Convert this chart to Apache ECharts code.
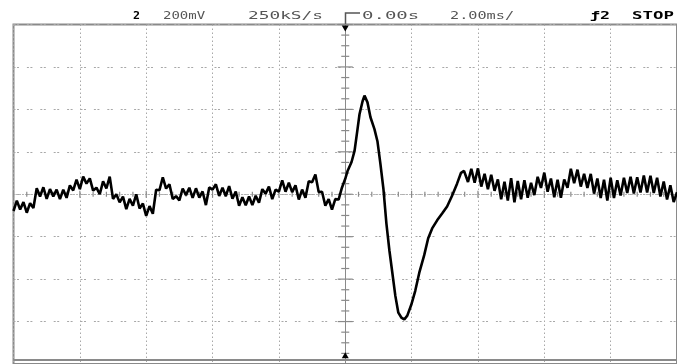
<!DOCTYPE html>
<html><head><meta charset="utf-8">
<script src="https://cdn.jsdelivr.net/npm/echarts@6/dist/echarts.min.js"></script>
<style>html,body{margin:0;padding:0;background:#fff}#c{width:677px;height:364px}</style>
</head><body><div id="c"></div>
<script>
// time in ms (2 ms/div), voltage in mV (200 mV/div)
const timeMs = [
-10.0,-9.9,-9.8,-9.7,-9.6,-9.5,-9.4,-9.3,-9.2,-9.1,
-9.0,-8.9,-8.8,-8.7,-8.6,-8.5,-8.4,-8.3,-8.2,-8.1,
-8.0,-7.9,-7.8,-7.7,-7.6,-7.5,-7.4,-7.3,-7.2,-7.1,
-7.0,-6.9,-6.8,-6.7,-6.6,-6.5,-6.4,-6.3,-6.2,-6.1,
-6.0,-5.9,-5.8,-5.7,-5.6,-5.5,-5.4,-5.3,-5.2,-5.1,
-5.0,-4.9,-4.8,-4.7,-4.6,-4.5,-4.4,-4.3,-4.2,-4.1,
-4.0,-3.9,-3.8,-3.7,-3.6,-3.5,-3.4,-3.3,-3.2,-3.1,
-3.0,-2.9,-2.8,-2.7,-2.6,-2.5,-2.4,-2.3,-2.2,-2.1,
-2.0,-1.9,-1.8,-1.7,-1.6,-1.5,-1.4,-1.3,-1.2,-1.1,
-1.0,-0.9,-0.8,-0.7,-0.6,-0.5,-0.4,-0.3,-0.2,-0.1,
0.0,
0.07,0.19,0.28,0.37,0.43,0.52,0.58,0.67,0.76,0.88,
0.97,1.06,1.15,1.24,1.33,1.42,1.51,1.60,1.69,1.78,
1.87,1.99,2.11,2.23,2.38,2.50,2.62,2.77,2.92,3.07,
3.22,3.37,3.49,3.58,
3.7,3.8,3.9,4.0,4.1,4.2,4.3,4.4,4.5,4.6,
4.7,4.8,4.9,5.0,5.1,5.2,5.3,5.4,5.5,5.6,
5.7,5.8,5.9,6.0,6.1,6.2,6.3,6.4,6.5,6.6,
6.7,6.8,6.9,7.0,7.1,7.2,7.3,7.4,7.5,7.6,
7.7,7.8,7.9,8.0,8.1,8.2,8.3,8.4,8.5,8.6,
8.7,8.8,8.9,9.0,9.1,9.2,9.3,9.4,9.5,9.6,
9.7,9.8,9.9,10.0
];
const voltageMv = [
-79,-30,-72,-37,-87,-42,-65,28,-11,33,
-22,24,-10,22,-23,21,-17,42,18,69,
24,83,50,75,17,31,0,61,27,83,
-22,0,-38,-11,-70,-22,-54,0,-67,-44,
-102,-56,-92,21,19,80,27,47,-22,-9,
-29,27,-4,31,-17,28,-16,13,-51,32,
22,47,-8,31,-9,38,-21,13,-54,-14,
-52,-11,-51,-7,-40,24,3,36,-23,22,
12,66,12,54,10,42,-25,22,-17,61,
57,93,10,12,-54,-23,-72,-23,-25,31,
73,
110,152,204,307,377,437,465,433,363,307,
250,143,26,-137,-264,-371,-479,-558,-581,-590,
-572,-521,-455,-371,-287,-207,-161,-123,-91,-58,
-7,50,101,110,
58,120,54,122,36,96,24,92,16,70,
-24,59,-30,76,-38,63,-24,66,-16,54,
-4,82,30,102,12,74,-14,68,-16,70,
30,120,52,116,36,96,30,96,3,74,
-18,68,-30,78,-18,66,-6,78,6,82,
3,80,8,88,8,87,6,78,-11,60,
-25,42,-37,10
];
// centre-axis graticule marks (1/4 div vertically, 1/5 div horizontally)
const yCenterTicksMv = [-800,-750,-700,-650,-600,-550,-500,-450,-400,-350,-300,-250,-200,-150,-100,-50,0,
  50,100,150,200,250,300,350,400,450,500,550,600,650,700,750,800];
const xCenterTicksMs = [-10,-9.6,-9.2,-8.8,-8.4,-8,-7.6,-7.2,-6.8,-6.4,-6,-5.6,-5.2,-4.8,-4.4,-4,-3.6,-3.2,-2.8,-2.4,
  -2,-1.6,-1.2,-0.8,-0.4,0,0.4,0.8,1.2,1.6,2,2.4,2.8,3.2,3.6,4,4.4,4.8,5.2,5.6,6,6.4,6.8,7.2,7.6,8,8.4,8.8,9.2,9.6,10];
const headerTexts = ['2','200mV','250kS/s','0.00s','2.00ms/','ƒ2','STOP'];
const timeRange = [-10, 10];
const voltRange = [-800, 800];
const screenBottomMv = -778;

const chart = echarts.init(document.getElementById('c'));
const gridCol = '#a8a8a8';
const axCol = '#8a8a8a';

const hdrPos = [[133,1.17,true],[163,1.4,false],[248,1.78,false],[362,1.9,false],[450,1.52,false],[590,1.66,true],[632,1.74,true]];
const graphics = headerTexts.map((t,i)=>({type:'text', x:hdrPos[i][0], y:16.5, scaleX:hdrPos[i][1],
  style:{text:t, fontFamily:'DejaVu Sans Mono', fontSize:10, fontWeight:hdrPos[i][2]?'bold':'normal',
  fill:hdrPos[i][2]?'#000':'#555', textAlign:'left', textVerticalAlign:'middle'}}));
graphics.push({type:'polyline', shape:{points:[[345.5,24],[345.5,13],[360,13]]}, style:{stroke:'#555', lineWidth:1.5, fill:null}});

function tickSeries(data, vertical){
  return {type:'custom', silent:true, clip:false, z:3, xAxisIndex:0, yAxisIndex:0,
    data:data,
    renderItem:function(params, api){
      const p = api.coord([api.value(0), api.value(1)]);
      let shape;
      if (vertical) {
        const major = Math.abs(api.value(1)) % 200 === 0;
        const h = major ? 7.5 : 4;
        shape = {x1:p[0]-h, y1:p[1], x2:p[0]+h, y2:p[1]};
      } else {
        const major = Math.abs(Math.round(api.value(0)*10)) % 20 === 0;
        const h = major ? 3.5 : 2.5;
        shape = {x1:p[0], y1:p[1]-h, x2:p[0], y2:p[1]+h};
      }
      return {type:'line', shape:shape, style:{stroke:axCol, lineWidth:1.2}};
    }};
}

chart.setOption({
  animation:false,
  backgroundColor:'#fff',
  grid:{left:13.5, top:24.5, right:-4.5, bottom:-2.9, show:true, borderColor:axCol, borderWidth:2, backgroundColor:'transparent'},
  xAxis:{type:'value', min:timeRange[0], max:timeRange[1], interval:2,
    axisLine:{show:true, onZero:true, lineStyle:{color:'#b0b0b0', type:[1,2], width:1}},
    axisTick:{show:false}, axisLabel:{show:false},
    splitLine:{show:true, lineStyle:{color:gridCol, type:[1.5,2.5], width:1}}},
  yAxis:{type:'value', min:voltRange[0], max:voltRange[1], interval:200,
    axisLine:{show:true, onZero:true, lineStyle:{color:axCol, width:1}},
    axisTick:{show:false}, axisLabel:{show:false},
    splitLine:{show:true, lineStyle:{color:gridCol, type:[2,1.5,2,7.9], width:1}}},
  graphic:graphics,
  series:[
    tickSeries(yCenterTicksMv.map(v=>[0,v]), true),
    tickSeries(xCenterTicksMs.map(t=>[t,0]), false),
    {
    type:'line', showSymbol:false, symbol:'none', z:5,
    data:timeMs.map((t,i)=>[t, voltageMv[i]]),
    lineStyle:{color:'#000', width:2.6},
    markLine:{silent:true, symbol:'none', label:{show:false}, lineStyle:{color:axCol, type:'solid', width:2},
      data:[{yAxis:screenBottomMv}]},
    markPoint:{silent:true, label:{show:false}, itemStyle:{color:'#000'},
      data:[{coord:[0, voltRange[1]], symbol:'triangle', symbolRotate:180, symbolSize:[7,6], symbolOffset:[0,4]},
            {coord:[0, screenBottomMv], symbol:'triangle', symbolSize:[7,6], symbolOffset:[0,-4]}]}
  }]
});
</script></body></html>
